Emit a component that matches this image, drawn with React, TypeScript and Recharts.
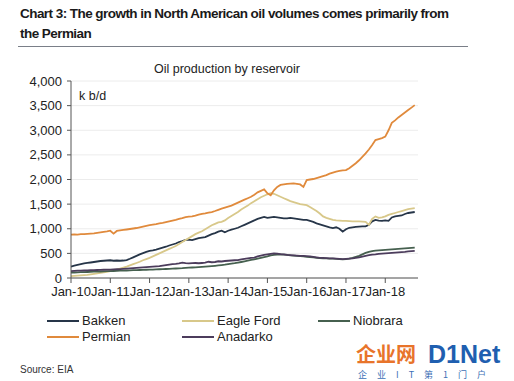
import React from 'react';
import { LineChart, Line, XAxis, YAxis, CartesianGrid } from 'recharts';

// monthly, Jan-10 .. Oct-18 (k b/d)
const bakken = [
  230, 250, 265, 280, 295, 305, 315, 325, 335, 345, 350, 355,
  360, 350, 355, 350, 355, 365, 390, 420, 450, 480, 505, 530,
  550, 560, 575, 595, 615, 635, 660, 680, 700, 730, 750, 775,
  780, 770, 790, 810, 820, 830, 860, 890, 910, 940, 960, 930,
  960, 980, 1000, 1020, 1050, 1080, 1110, 1140, 1170, 1200, 1220, 1240,
  1220, 1230, 1240, 1230, 1220, 1210, 1210, 1220, 1210, 1200, 1190, 1180,
  1180, 1160, 1140, 1110, 1090, 1070, 1050, 1030, 1015, 1030, 1000, 940,
  990, 1020, 1030, 1040, 1045, 1050, 1050, 1080, 1150, 1180, 1165, 1160,
  1170, 1160, 1230, 1250, 1260, 1270, 1300, 1320, 1330, 1340,
];
const eagleFord = [
  40, 45, 50, 55, 60, 65, 75, 85, 95, 105, 115, 125,
  140, 155, 170, 190, 210, 230, 255, 280, 305, 330, 360, 385,
  410, 440, 470, 500, 530, 560, 590, 620, 650, 690, 730, 770,
  810, 850, 890, 920, 950, 990, 1030, 1070, 1100, 1130, 1140, 1170,
  1220, 1260, 1300, 1340, 1390, 1430, 1470, 1520, 1560, 1600, 1640, 1670,
  1700, 1720, 1710, 1680, 1650, 1620, 1590, 1560, 1540, 1520, 1500, 1490,
  1480, 1440, 1400, 1360, 1310, 1250, 1220, 1200, 1180, 1170, 1165, 1160,
  1160, 1155, 1150, 1150, 1150, 1145, 1140, 1080, 1200, 1250, 1220, 1230,
  1250, 1280, 1300, 1320, 1340, 1360, 1380, 1400, 1410, 1420,
];
const niobrara = [
  110, 112, 115, 118, 120, 122, 125, 128, 130, 132, 135, 138,
  140, 142, 145, 148, 150, 152, 155, 158, 160, 162, 165, 168,
  170, 172, 175, 178, 180, 183, 186, 190, 193, 197, 200, 205,
  210, 213, 216, 220, 225, 230, 236, 242, 248, 255, 262, 270,
  280, 290, 300, 312, 325, 338, 352, 366, 380, 395, 410, 425,
  440, 460, 470, 475, 480, 475, 470, 460, 455, 450, 445, 440,
  430, 425, 420, 410, 405, 400, 400, 395, 395, 390, 385, 380,
  385, 395, 410, 430, 450, 480, 510, 530, 545, 555, 560, 565,
  570, 575, 580, 585, 590, 595, 600, 605, 610, 615,
];
const permian = [
  880, 885, 880, 890, 890, 895, 900, 905, 915, 925, 935, 945,
  960, 900, 955, 965, 975, 985, 995, 1005, 1015, 1030, 1045, 1060,
  1075, 1085, 1095, 1110, 1120, 1135, 1150, 1165, 1180, 1200, 1215, 1235,
  1245, 1250, 1265, 1285, 1300, 1310, 1325, 1340, 1360, 1385, 1410, 1430,
  1450, 1470, 1500, 1530, 1560, 1590, 1620, 1650, 1690, 1740, 1770, 1800,
  1720, 1680, 1780, 1850, 1890, 1900, 1910, 1915, 1920, 1910, 1900, 1850,
  1990, 2000, 2010, 2030, 2050, 2070, 2090, 2120, 2140, 2160, 2175, 2185,
  2190, 2230, 2280, 2330, 2390, 2460, 2530, 2610, 2700, 2800, 2820, 2840,
  2870, 3000, 3150, 3200, 3260, 3310, 3360, 3410, 3460, 3510,
];
const anadarko = [
  140, 145, 148, 150, 152, 155, 158, 160, 162, 165, 168, 170,
  172, 175, 178, 182, 186, 190, 195, 200, 205, 210, 215, 220,
  225, 230, 235, 240, 250, 260, 270, 280, 285, 295, 310, 300,
  295, 300, 305, 300, 305, 310, 330, 320, 325, 340, 335, 345,
  350, 355, 360, 365, 380, 390, 400, 410, 415, 440, 455, 470,
  480, 490, 500, 495, 485, 480, 470, 465, 460, 455, 450, 450,
  445, 440, 430, 420, 410, 410, 405, 400, 400, 395, 390, 385,
  390, 395, 400, 410, 420, 435, 450, 465, 475, 480, 490, 495,
  500, 505, 510, 515, 520, 525, 530, 540, 545, 550,
];

const yearTicks = [0, 12, 24, 36, 48, 60, 72, 84, 96];
const yearLabels = ['Jan-10', 'Jan-11', 'Jan-12', 'Jan-13', 'Jan-14', 'Jan-15', 'Jan-16', 'Jan-17', 'Jan-18'];
const yTicks = [0, 500, 1000, 1500, 2000, 2500, 3000, 3500, 4000];

const series = [
  { key: 'bakken', name: 'Bakken', color: '#263548', values: bakken },
  { key: 'eagleFord', name: 'Eagle Ford', color: '#d8c88a', values: eagleFord },
  { key: 'niobrara', name: 'Niobrara', color: '#46604f', values: niobrara },
  { key: 'permian', name: 'Permian', color: '#e08a3c', values: permian },
  { key: 'anadarko', name: 'Anadarko', color: '#4c3c5c', values: anadarko },
];

const data = bakken.map((_, i) => {
  const row: Record<string, number> = { m: i };
  series.forEach((s) => (row[s.key] = s.values[i]));
  return row;
});

const font = '"Liberation Sans", Arial, sans-serif';
const legendPos = [
  { x: 47, y: 321 },
  { x: 182, y: 321 },
  { x: 318, y: 321 },
  { x: 47, y: 337 },
  { x: 182, y: 337 },
];

export default function App() {
  return (
    <div style={{ position: 'absolute', left: 0, top: 0, width: 514, height: 381, background: '#fff', fontFamily: font, overflow: 'hidden' }}>
      <div style={{ position: 'absolute', left: 20, top: 4, width: 480, fontSize: 13.5, fontWeight: 'bold', lineHeight: '20px', color: '#1a1a1a', letterSpacing: -0.55, whiteSpace: 'nowrap' }}>
        Chart 3: The growth in North American oil volumes comes primarily from
        <br />
        the Permian
      </div>
      <div style={{ position: 'absolute', left: 18, top: 46, width: 450, height: 1, background: '#7a7f88' }} />
      <div style={{ position: 'absolute', left: 154, top: 62, fontSize: 12.5, color: '#222' }}>Oil production by reservoir</div>
      <div style={{ position: 'absolute', left: 79, top: 89, fontSize: 12.5, color: '#222' }}>k b/d</div>

      <div style={{ position: 'absolute', left: 0, top: 0 }}>
        <LineChart width={514} height={381} data={data} margin={{ top: 81, right: 96, bottom: 73, left: 11 }}>
          <CartesianGrid vertical={false} stroke="#ececec" />
          <XAxis
            dataKey="m"
            type="number"
            domain={[0, 106]}
            ticks={yearTicks}
            interval={0}
            tickFormatter={(v: number) => yearLabels[yearTicks.indexOf(v)]}
            height={30}
            tickSize={5}
            tickMargin={4}
            axisLine={{ stroke: '#555' }}
            tickLine={{ stroke: '#555' }}
            tick={{ fill: '#222', fontSize: 13, fontFamily: font }}
          />
          <YAxis
            domain={[0, 4000]}
            ticks={yTicks}
            interval={0}
            width={60}
            tickSize={4}
            tickMargin={5}
            tickFormatter={(v: number) => v.toLocaleString('en-US')}
            axisLine={{ stroke: '#555' }}
            tickLine={{ stroke: '#555' }}
            tick={{ fill: '#222', fontSize: 13, fontFamily: font }}
          />
          {series.map((s) => (
            <Line
              key={s.key}
              dataKey={s.key}
              name={s.name}
              stroke={s.color}
              strokeWidth={1.8}
              dot={false}
              isAnimationActive={false}
            />
          ))}
        </LineChart>
      </div>

      {series.map((s, i) => (
        <div key={s.key} style={{ position: 'absolute', left: legendPos[i].x, top: legendPos[i].y - 7, height: 14, display: 'flex', alignItems: 'center' }}>
          <div style={{ width: 32, height: 2, background: s.color }} />
          <span style={{ marginLeft: 3, fontSize: 13, lineHeight: '14px', color: '#222' }}>{s.name}</span>
        </div>
      ))}

      <div style={{ position: 'absolute', left: 20, top: 364, fontSize: 10, color: '#333' }}>Source: EIA</div>

      <div style={{ position: 'absolute', left: 356, top: 343, fontSize: 20, fontWeight: 'bold', color: '#e8742a', fontFamily: '"Noto Sans CJK SC", sans-serif', lineHeight: '22px' }}>企业网</div>
      <div style={{ position: 'absolute', left: 428, top: 342, fontSize: 25, fontWeight: 'bold', color: '#1f5fb0', lineHeight: '24px' }}>D1Net</div>
      <div style={{ position: 'absolute', left: 358, top: 369, fontSize: 9, color: '#3d6fb5', fontFamily: '"Noto Sans CJK SC", sans-serif', letterSpacing: 10, lineHeight: '11px' }}>企业IT第1门户</div>
    </div>
  );
}
